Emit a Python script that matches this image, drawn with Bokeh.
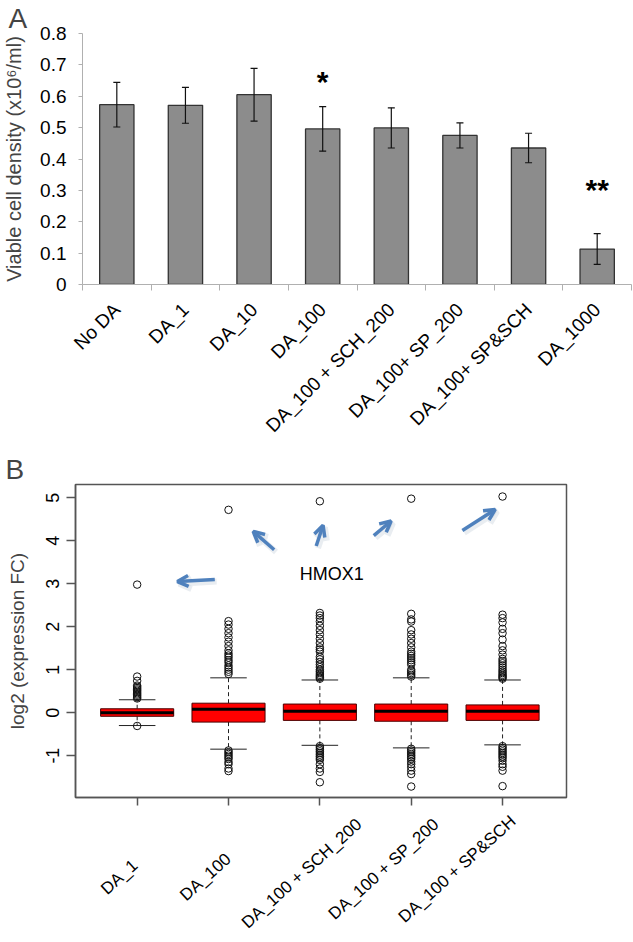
import math
from bokeh.plotting import figure
from bokeh.models import (FixedTicker, Whisker, TeeHead, ColumnDataSource, Arrow,
                          OpenHead, Range1d)
from bokeh.core.properties import value
from bokeh.embed import file_html
from bokeh.resources import INLINE

FONT = "Liberation Sans"

# ---------------- Panel A data ----------------
a_categories = ["No DA", "DA_1", "DA_10", "DA_100", "DA_100 + SCH_200",
                "DA_100+ SP_200", "DA_100+ SP&SCH", "DA_1000"]
a_values = [0.573, 0.571, 0.605, 0.496, 0.499, 0.475, 0.435, 0.113]
a_errors = [0.071, 0.057, 0.084, 0.071, 0.064, 0.040, 0.047, 0.049]
a_yticks = [0, 0.1, 0.2, 0.3, 0.4, 0.5, 0.6, 0.7, 0.8]
a_ytick_labels = ["0", "0.1", "0.2", "0.3", "0.4", "0.5", "0.6", "0.7", "0.8"]
a_star_pos = [4, 8]
a_star_y = [0.627, 0.283]
a_star_text = ["*", "**"]

# ---------------- Panel B data ----------------
b_categories = ["DA_1", "DA_100", "DA_100 + SCH_200", "DA_100 + SP_200", "DA_100 + SP&SCH"]
b_q1 = [-0.085, -0.22, -0.18, -0.20, -0.18]
b_median = [0.0, 0.08, 0.03, 0.03, 0.03]
b_q3 = [0.09, 0.22, 0.20, 0.20, 0.18]
b_wlow = [-0.30, -0.85, -0.76, -0.82, -0.75]
b_whigh = [0.30, 0.81, 0.76, 0.81, 0.76]
b_out_da1 = [0.33, 0.36, 0.39, 0.42, 0.45, 0.48, 0.51, 0.54, 0.57, 0.60, 0.63, 0.74, 0.84,
             -0.31, 2.98]
b_out_da100 = [0.90, 0.95, 1.00, 1.05, 1.10, 1.17, 1.22, 1.28, 1.33, 1.38, 1.45, 1.55, 1.65,
               1.75, 1.85, 1.95, 2.05, 2.13,
               -0.88, -0.92, -0.96, -1.00, -1.04, -1.08, -1.15, -1.20, -1.30, -1.36, 4.72]
b_out_sch = [0.79, 0.82, 0.85, 0.88, 0.92, 0.96, 1.00, 1.06, 1.12, 1.18, 1.24, 1.30, 1.42, 1.47,
             1.52, 1.62, 1.72, 1.82, 1.92, 2.02, 2.12, 2.20, 2.26, 2.32,
             -0.78, -0.82, -0.86, -0.90, -0.94, -0.98, -1.02, -1.06, -1.10, -1.20, -1.30,
             -1.38, -1.62, 4.92]
b_out_sp = [0.84, 0.88, 0.92, 0.96, 1.00, 1.12, 1.17, 1.22, 1.27, 1.32, 1.37, 1.42, 1.52,
            1.62, 1.72, 1.82, 1.92, 2.12, 2.17, 2.30,
            -0.84, -0.88, -0.92, -0.96, -1.00, -1.04, -1.08, -1.14, -1.20, -1.27, -1.35,
            -1.43, -1.72, 4.98]
b_out_spsch = [0.79, 0.82, 0.85, 0.88, 0.92, 0.96, 1.00, 1.05, 1.10, 1.15, 1.20, 1.25,
               1.35, 1.45, 1.55, 1.70, 1.85, 1.95, 2.10, 2.20, 2.28,
               -0.78, -0.82, -0.86, -0.90, -0.94, -0.98, -1.02, -1.06, -1.12, -1.20,
               -1.26, -1.35, -1.71, 5.03]
b_yticks = [-1, 0, 1, 2, 3, 4, 5]
b_ytick_labels = ["-1", "0", "1", "2", "3", "4", "5"]
# annotation arrows (data coordinates: group position, log2 FC)
arrow_x0 = [1.85, 2.50, 2.96, 3.59, 4.56]
arrow_y0 = [3.10, 3.79, 3.88, 4.12, 4.24]
arrow_x1 = [1.44, 2.27, 3.035, 3.78, 4.92]
arrow_y1 = [3.05, 4.22, 4.36, 4.46, 4.73]
gene_label = "HMOX1"
gene_label_x = 2.78
gene_label_y = 3.22

# label placement (style): where each rotated group label is anchored, and its padding
b_label_anchor = [1.554, 2.497, 3.507, 4.350, 5.155]
b_label_pad = [15, 13, 2, 2, 1]

# =============== Panel A ===============
pa = figure(width=633, height=446, x_range=Range1d(0.5, 8.5), y_range=Range1d(0, 0.8),
            output_backend="svg", toolbar_location=None,
            min_border_left=79, min_border_right=2, min_border_top=31, min_border_bottom=160,
            title="A")
pa.title.text_font = FONT
pa.title.text_font_size = "28px"
pa.title.text_font_style = "normal"
pa.title.align = "left"
pa.title.offset = -74
pa.title.standoff = 0
pa.outline_line_color = None
pa.xgrid.grid_line_color = None
pa.ygrid.grid_line_color = None

xa = list(range(1, len(a_categories) + 1))
src_a = ColumnDataSource(dict(x=xa, top=a_values,
                              upper=[v + e for v, e in zip(a_values, a_errors)],
                              lower=[v - e for v, e in zip(a_values, a_errors)]))
pa.vbar(x="x", top="top", bottom=0, width=0.5, source=src_a,
        fill_color="#8c8c8c", line_color="#333333", line_width=1.3)
wk = Whisker(base="x", upper="upper", lower="lower", source=src_a,
             line_color="#111111", line_width=1.2,
             upper_head=TeeHead(size=7, line_color="#111111", line_width=1.2),
             lower_head=TeeHead(size=7, line_color="#111111", line_width=1.2))
wk.level = "overlay"
pa.add_layout(wk)
pa.text(x=a_star_pos, y=a_star_y, text=a_star_text, text_font=value(FONT),
        text_font_style="bold", text_font_size="30px", text_align="center",
        text_baseline="middle", y_offset=-6, text_color="black")

ya = pa.yaxis[0]
ya.ticker = FixedTicker(ticks=a_yticks)
ya.major_label_overrides = {t: l for t, l in zip(a_yticks, a_ytick_labels)}
ya.axis_line_color = "#b0b0b0"
ya.major_tick_line_color = "#b0b0b0"
ya.minor_tick_line_color = None
ya.major_tick_in = 0
ya.major_tick_out = 4
ya.major_label_text_font = FONT
ya.major_label_text_font_size = "19px"
ya.major_label_text_color = "black"
ya.major_label_standoff = 12
ya.axis_label = "Viable cell density (x10\u2076/ml)"
ya.axis_label_text_font = FONT
ya.axis_label_text_font_style = "normal"
ya.axis_label_text_font_size = "20px"
ya.axis_label_standoff = 12

xax = pa.xaxis[0]
xax.ticker = FixedTicker(ticks=xa, minor_ticks=[i + 0.5 for i in range(0, len(a_categories) + 1)])
xax.major_label_overrides = {i: c for i, c in zip(xa, a_categories)}
xax.major_label_orientation = math.pi / 4
xax.axis_line_color = "#b0b0b0"
xax.major_tick_line_color = None
xax.major_tick_out = 6
xax.minor_tick_line_color = "#b0b0b0"
xax.minor_tick_in = 0
xax.minor_tick_out = 6
xax.major_label_text_font = FONT
xax.major_label_text_font_size = "19px"
xax.major_label_text_color = "black"
xax.major_label_standoff = 16

# =============== Panel B ===============
pb = figure(width=633, height=496, x_range=Range1d(0.325, 5.70), y_range=Range1d(-1.975, 5.31),
            output_backend="svg", toolbar_location=None,
            min_border_left=75, min_border_right=67, min_border_top=38, min_border_bottom=142,
            title="B")
pb.title.text_font = FONT
pb.title.text_font_size = "28px"
pb.title.text_font_style = "normal"
pb.title.align = "left"
pb.title.offset = -70
pb.title.standoff = 0
pb.xgrid.grid_line_color = None
pb.ygrid.grid_line_color = None
pb.outline_line_color = "#555555"
pb.outline_line_width = 1.5

xb = list(range(1, len(b_categories) + 1))
hw = 0.4
cw = 0.2
# whiskers (dashed)
pb.segment(x0=xb, y0=b_q3, x1=xb, y1=b_whigh, line_color="#222222", line_dash="4 3", line_width=1)
pb.segment(x0=xb, y0=b_q1, x1=xb, y1=b_wlow, line_color="#222222", line_dash="4 3", line_width=1)
# caps
pb.segment(x0=[x - cw for x in xb], y0=b_whigh, x1=[x + cw for x in xb], y1=b_whigh,
           line_color="#222222", line_width=1)
pb.segment(x0=[x - cw for x in xb], y0=b_wlow, x1=[x + cw for x in xb], y1=b_wlow,
           line_color="#222222", line_width=1)
# boxes
pb.vbar(x=xb, bottom=b_q1, top=b_q3, width=2 * hw, fill_color="#ff0000",
        line_color="#4a0000", line_width=1)
# medians
pb.segment(x0=[x - hw for x in xb], y0=b_median, x1=[x + hw for x in xb], y1=b_median,
           line_color="black", line_width=3)
# outliers
groups = [b_out_da1, b_out_da100, b_out_sch, b_out_sp, b_out_spsch]
ox, oy = [], []
for x, g in zip(xb, groups):
    ox += [x] * len(g)
    oy += g
pb.scatter(x=ox, y=oy, marker="circle", size=7.5, fill_color=None,
           line_color="#111111", line_width=1)

# arrows (with a soft drop shadow)
src_shadow = ColumnDataSource(dict(x0=[v + 0.02 for v in arrow_x0], y0=[v - 0.05 for v in arrow_y0],
                                   x1=[v + 0.02 for v in arrow_x1], y1=[v - 0.05 for v in arrow_y1]))
pb.add_layout(Arrow(x_start="x0", y_start="y0", x_end="x1", y_end="y1", source=src_shadow,
                    line_color="#a9b6c8", line_width=6, line_alpha=0.25,
                    end=OpenHead(size=12, line_color="#a9b6c8", line_width=6, line_alpha=0.25)))
src_arr = ColumnDataSource(dict(x0=arrow_x0, y0=arrow_y0, x1=arrow_x1, y1=arrow_y1))
pb.add_layout(Arrow(x_start="x0", y_start="y0", x_end="x1", y_end="y1", source=src_arr,
                    line_color="#4f81bd", line_width=3.5,
                    end=OpenHead(size=11, line_color="#4f81bd", line_width=3.5)))
pb.text(x=[gene_label_x], y=[gene_label_y], text=[gene_label], text_font=value(FONT),
        text_font_size="18px", text_align="left", text_baseline="middle", text_color="black")

yb = pb.yaxis[0]
yb.ticker = FixedTicker(ticks=b_yticks)
yb.major_label_overrides = {t: l for t, l in zip(b_yticks, b_ytick_labels)}
yb.major_label_orientation = "vertical"
yb.axis_line_color = "#555555"
yb.axis_line_width = 1.5
yb.major_tick_line_color = "#555555"
yb.major_tick_line_width = 1.5
yb.minor_tick_line_color = None
yb.major_tick_in = 0
yb.major_tick_out = 9
yb.major_label_text_font = FONT
yb.major_label_text_font_size = "18px"
yb.major_label_text_color = "black"
yb.major_label_standoff = 7
yb.axis_label = "log2 (expression FC)"
yb.axis_label_text_font = FONT
yb.axis_label_text_font_style = "normal"
yb.axis_label_text_font_size = "19px"
yb.axis_label_standoff = 16

xbx = pb.xaxis[0]
xbx.ticker = FixedTicker(ticks=b_label_anchor, minor_ticks=xb)
xbx.major_label_overrides = {pos: c + "\u00a0" * n
                             for pos, c, n in zip(b_label_anchor, b_categories, b_label_pad)}
xbx.major_label_orientation = 0.733
xbx.axis_line_color = "#555555"
xbx.axis_line_width = 1.5
xbx.major_tick_line_color = None
xbx.major_tick_in = 0
xbx.major_tick_out = 0
xbx.minor_tick_line_color = "#555555"
xbx.minor_tick_line_width = 1.5
xbx.minor_tick_in = 0
xbx.minor_tick_out = 8
xbx.major_label_text_font = FONT
xbx.major_label_text_font_size = "17px"
xbx.major_label_text_color = "black"
xbx.major_label_standoff = 10

open("out.html", "w").write(file_html([pa, pb], INLINE))
